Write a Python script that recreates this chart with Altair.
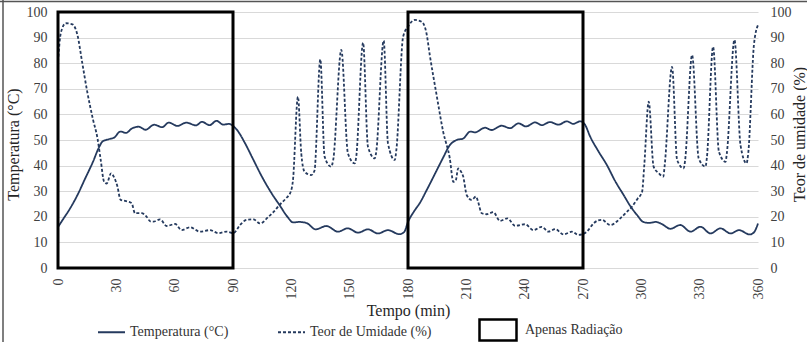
import altair as alt
import pandas as pd

# ---------------- data ----------------
series = ["Temperatura (°C)", "Teor de Umidade (%)"]
box_label = "Apenas Radiação"

t_temp = [0, 3, 6, 10, 14, 18, 21, 23, 26, 29, 32, 35, 38, 41.5, 45, 49.5, 53.5, 57, 61.5, 66,
          71, 74, 78, 81.5, 85, 88, 90, 92, 96, 100, 105, 110, 114, 118, 121, 124, 128, 132.5,
          138, 144, 149, 154.3, 159.4, 164.6, 169.7, 175.5, 178, 180, 183, 186, 190, 194, 198,
          201.5, 205, 208.4, 212, 214.5, 219.6, 223, 228.2, 232.5, 236.8, 240.7, 245.4, 248.8,
          253, 257.4, 261.7, 265, 268.6, 271, 273.7, 278, 282.3, 286.5, 290.9, 294.5, 297.8,
          301, 304, 307.5, 310.5, 315, 320, 325.3, 330.4, 335.6, 340.7, 345.9, 350.2, 355.8,
          358, 360]
v_temp = [16, 19.5, 23, 28.5, 35, 41.5, 47, 49.5, 50.3, 51, 53.3, 52.8, 54.5, 55.2, 54, 56, 55,
          56.8, 55.5, 56.8, 55.7, 57.1, 55.8, 57.5, 56, 56.3, 55.5, 54, 49, 43, 35.5, 29, 24.5,
          20, 17.8, 18, 17.5, 15.1, 16.4, 14.2, 15.5, 13.8, 15.1, 13.5, 14.8, 13.2, 14, 18, 22,
          25.3, 31, 37, 43, 48, 50, 50.6, 53.3, 53, 54.8, 53.9, 55.6, 54.6, 56.5, 55.3, 56.9,
          55.8, 57, 56, 57.3, 56.3, 57.3, 56, 51.3, 45.5, 40.2, 34, 28.5, 24, 20.7, 18, 17.6,
          18, 17.2, 15.3, 16.8, 14.2, 16.1, 13.5, 15.5, 13.5, 14.8, 13.1, 14, 17.4]

t_hum = [0, 1.5, 4, 7.4, 10, 12.5, 15, 18, 20.3, 22,
         23.7, 25, 27.3, 28.8, 30.5, 32.2, 34.5, 36.2, 37.9, 39.6,
         43, 45.6, 47.5, 49, 52.5, 55.9, 60.2, 63.6, 67.9, 73,
         78.2, 82.5, 86.8, 90.2, 93.6, 97, 100.5, 103.9, 108.2, 111,
         113.9, 117, 119.8, 120.8, 123.4, 125.1, 126.8, 130.2, 131.9, 134.9,
         137.1, 140.5, 141.5, 145.7, 149.1, 152.6, 153.3, 156.9, 159.4, 162.9,
         163.6, 167.5, 169.7, 173.2, 174, 177.5, 180, 183.5, 187, 189.5,
         191.2, 194.7, 198.1, 201.5, 203.3, 204.5, 205.8, 207, 208.4, 210.2,
         212.7, 215, 216, 217.9, 220.5, 223.9, 227.3, 231.1, 235.1, 240.2,
         244.5, 248.8, 252.2, 255.7, 260, 264.3, 267.7, 272, 275.4, 277.5,
         279.7, 284, 289.2, 292, 295.2, 298, 300.4, 301.5, 303.8, 306.3,
         309, 311.3, 312, 315.8, 318.4, 321.8, 322.5, 326.1, 329.5, 333,
         333.7, 336.9, 339.9, 343.3, 344, 347.9, 351, 354.1, 355, 357.9,
         360]
v_hum = [80.6, 92, 95.6, 95.2, 91, 80, 69, 58, 50.7, 42,
         33.7, 33, 37, 35.5, 32, 26.6, 26.2, 25.9, 25.3, 21.4,
         21.4, 20, 18.2, 18.1, 19, 16.4, 17.2, 14.8, 15.9, 14.2,
         14.8, 13.6, 14.2, 13.6, 16.8, 18.8, 19, 17.4, 20, 22,
         24.6, 27, 30, 34, 66.9, 44.8, 37.6, 36.3, 38, 81.5,
         43.5, 39.6, 42, 85.2, 44.8, 40.9, 43, 88, 47.4, 42.8,
         45, 88.8, 48.7, 42.2, 46, 90.4, 94.3, 96.9, 96.2, 91.7,
         83.2, 67.6, 53.2, 42.8, 33.7, 34, 38.9, 38, 35.7, 28.5,
         26.6, 27.9, 26, 21.4, 21, 21.8, 18.4, 19.4, 16.5, 17.1,
         14.8, 16.1, 14.2, 15.2, 13.1, 14.2, 12.9, 14.2, 17.4, 18.5,
         18.8, 16.8, 19.4, 21.5, 24, 27, 29.8, 40, 65, 39.6,
         37, 35.7, 40, 78.6, 42.2, 38.9, 42, 83.2, 42.8, 39.6,
         43, 86.4, 45.4, 41.5, 45, 89.1, 48, 40.9, 45, 87.1,
         94.9]

box_start = [0, 180]
box_end = [90, 270]
box_bottom = [0, 0]
box_top = [100, 100]

x_ticks = list(range(0, 361, 30))
y_ticks = list(range(0, 101, 10))

# ---------------- tables ----------------
temp_df = pd.DataFrame({"t": t_temp, "v": v_temp, "serie": series[0]})
hum_df = pd.DataFrame({"t": t_hum, "v": v_hum, "serie": series[1]})
box_df = pd.DataFrame({"x0": box_start, "x1": box_end, "y0": box_bottom,
                       "y1": box_top, "lab": box_label})
frame_df = pd.DataFrame({"k": [0]})

NAVY = "#253a5e"
FONT = "Liberation Serif"
LBL = "#404040"

x_scale = alt.Scale(domain=[0, 360], nice=False, zero=False)
y_scale = alt.Scale(domain=[0, 100], nice=False)

dash_enc = alt.StrokeDash(
    "serie:N",
    scale=alt.Scale(domain=series, range=[[1, 0], [3, 2]]),
    legend=alt.Legend(
        orient="none", legendX=39, legendY=305.5, direction="horizontal", title=None,
        symbolType="stroke", symbolSize=729, symbolStrokeWidth=2,
        symbolStrokeColor=NAVY, labelFont=FONT, labelFontSize=14, labelColor="#333333",
        columnPadding=45, labelOffset=4, padding=0,
    ),
)

x_enc = alt.X(
    "t:Q", scale=x_scale,
    axis=alt.Axis(values=x_ticks, labelAngle=270, title="Tempo (min)", grid=False,
                  labelPadding=10, titleX=350, titleY=42, titleBaseline="middle",
                  titleAlign="center"),
)

temp_line = alt.Chart(temp_df).mark_line(
    color=NAVY, strokeWidth=1.8, interpolate="monotone"
).encode(
    x=x_enc,
    y=alt.Y("v:Q", scale=y_scale,
            axis=alt.Axis(values=y_ticks, title="Temperatura (°C)", grid=True,
                          orient="left", labelPadding=11, titleAngle=270,
                          titleX=-45, titleY=132, titleBaseline="middle",
                          titleAlign="center")),
    strokeDash=dash_enc,
)

hum_line = alt.Chart(hum_df).mark_line(
    color=NAVY, strokeWidth=1.8, interpolate="monotone"
).encode(
    x=alt.X("t:Q", scale=x_scale),
    y=alt.Y("v:Q", scale=y_scale,
            axis=alt.Axis(values=y_ticks, title="Teor de umidade (%)", grid=False,
                          orient="right", labelPadding=12, titleAngle=270,
                          titleX=41, titleY=122, titleBaseline="middle",
                          titleAlign="center")),
    strokeDash=dash_enc,
)

box = alt.Chart(box_df).mark_rect(fill="transparent", strokeWidth=3).encode(
    x=alt.X("x0:Q", scale=x_scale),
    x2="x1:Q",
    y=alt.Y("y0:Q", scale=y_scale, axis=None),
    y2="y1:Q",
    stroke=alt.Stroke(
        "lab:N",
        scale=alt.Scale(domain=[box_label], range=["black"]),
        legend=alt.Legend(
            orient="none", legendX=420, legendY=298, title=None,
            symbolType="M-1,-0.57H1V0.57H-1Z", symbolSize=1369,
            symbolStrokeWidth=2.5, symbolFillColor="white", labelOffset=7,
            labelFont=FONT, labelFontSize=14, labelColor="#333333", padding=0,
        ),
    ),
)

top_frame = alt.Chart(frame_df).mark_rule(color="#555555", strokeWidth=1.5).encode(
    x=alt.value(-58), x2=alt.value(749), y=alt.value(-10.5)
)
left_frame = alt.Chart(frame_df).mark_rule(color="#555555", strokeWidth=1.5).encode(
    x=alt.value(-55), y=alt.value(-12), y2=alt.value(330)
)

chart = (
    alt.layer(temp_line, hum_line, box, top_frame, left_frame)
    .resolve_scale(y="independent")
    .properties(
        width=700, height=256,
        padding={"left": 58, "top": 12, "right": 49, "bottom": 74},
        autosize=alt.AutoSizeParams(type="none"),
        background="white",
    )
    .configure_view(stroke=None)
    .configure_axis(
        labelFont=FONT, labelFontSize=14, labelColor=LBL,
        titleFont=FONT, titleFontSize=16, titleFontWeight="normal", titleColor="#262626",
        domain=False, ticks=False, gridColor="#d9d9d9", gridWidth=1,
    )
)

chart.save("out.html", embed_options={"renderer": "svg", "actions": False})
